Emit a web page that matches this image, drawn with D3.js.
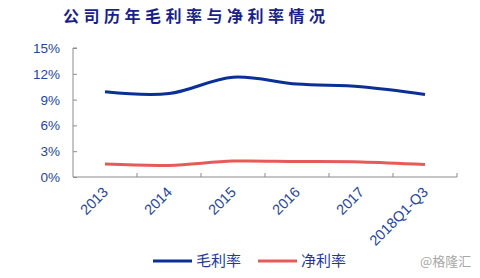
<!DOCTYPE html>
<html>
<head>
<meta charset="utf-8">
<script src="https://cdn.jsdelivr.net/npm/d3@7"></script>
<style>
 body { margin: 0; background: #fff; }
</style>
</head>
<body>
<script>
// chart data
var categories = ["2013", "2014", "2015", "2016", "2017", "2018Q1-Q3"];
var grossMargin = [9.9, 9.7, 11.6, 10.8, 10.5, 9.6];
var netMargin = [1.5, 1.35, 1.85, 1.8, 1.75, 1.45];
var yTicks = [0, 3, 6, 9, 12, 15];
var seriesNames = ["毛利率", "净利率"];
var seriesColors = ["#0a2f96", "#e85a5a"];

var width = 480, height = 278;
var plotLeft = 73, plotRight = 457, plotTop = 48, plotBottom = 177;
var latin = "'Liberation Sans', Arial, sans-serif";
var cjk = "'Noto Sans CJK SC', sans-serif";

var svg = d3.select("body").append("svg")
 .attr("width", width)
 .attr("height", height);

// title
svg.append("text")
 .attr("x", 63)
 .attr("y", 22)
 .attr("fill", "#1a1f8a")
 .style("font-family", cjk)
 .style("font-weight", "bold")
 .style("font-size", "16px")
 .style("letter-spacing", "4.5px")
 .text("公司历年毛利率与净利率情况");

var x = d3.scaleBand().domain(categories).range([plotLeft, plotRight]);
var y = d3.scaleLinear().domain([0, 15]).range([plotBottom, plotTop]);

// y axis
var yAxis = svg.append("g")
 .attr("transform", "translate(" + plotLeft + ",0)")
 .call(d3.axisRight(y).tickValues(yTicks).tickSize(4).tickFormat(""));
yAxis.select(".domain").attr("d", "M4," + plotTop + "H0V" + plotBottom);
yAxis.selectAll("line, path").attr("stroke", "#8c8c8c");

svg.selectAll(".ylab")
 .data(yTicks)
 .enter().append("text")
 .attr("class", "ylab")
 .attr("x", 60)
 .attr("y", function(d) { return y(d) + 5; })
 .attr("text-anchor", "end")
 .attr("fill", "#2546a2")
 .style("font-family", latin)
 .style("font-size", "13.5px")
 .text(function(d) { return d + "%"; });

// x axis
var xAxis = svg.append("g")
 .attr("transform", "translate(0," + plotBottom + ")");
xAxis.append("line")
 .attr("x1", plotLeft).attr("x2", plotRight)
 .attr("stroke", "#8c8c8c");
var xEdges = categories.map(function(c) { return x(c) + x.bandwidth(); });
xAxis.selectAll(".xtick")
 .data(xEdges)
 .enter().append("line")
 .attr("x1", function(d) { return d; })
 .attr("x2", function(d) { return d; })
 .attr("y1", 0).attr("y2", -4)
 .attr("stroke", "#8c8c8c");

svg.selectAll(".xlab")
 .data(categories)
 .enter().append("text")
 .attr("class", "xlab")
 .attr("transform", function(d) {
   return "translate(" + (x(d) + x.bandwidth() / 2 + 4) + "," + (plotBottom + 16) + ") rotate(-45)";
 })
 .attr("text-anchor", "end")
 .attr("fill", "#2546a2")
 .style("font-family", latin)
 .style("font-size", "14.5px")
 .text(function(d) { return d; });

// lines
var line = d3.line()
 .x(function(d, i) { return x(categories[i]) + x.bandwidth() / 2; })
 .y(function(d) { return y(d); })
 .curve(d3.curveCatmullRom.alpha(0.5));

[grossMargin, netMargin].forEach(function(s, i) {
 svg.append("path")
   .attr("d", line(s))
   .attr("fill", "none")
   .attr("stroke", seriesColors[i])
   .attr("stroke-width", 3);
});

// legend
var legendX = [153, 258];
seriesNames.forEach(function(n, i) {
 svg.append("line")
   .attr("x1", legendX[i]).attr("x2", legendX[i] + 39)
   .attr("y1", 261).attr("y2", 261)
   .attr("stroke", seriesColors[i])
   .attr("stroke-width", 3);
 svg.append("text")
   .attr("x", legendX[i] + 43)
   .attr("y", 266)
   .attr("fill", "#1f3a9a")
   .style("font-family", cjk)
   .style("font-size", "15px")
   .text(n);
});

// watermark
svg.append("text")
 .attr("x", 420)
 .attr("y", 266)
 .attr("fill", "#a8a8a8")
 .style("font-family", cjk)
 .style("font-size", "13px")
 .text("@格隆汇");
</script>
</body>
</html>
